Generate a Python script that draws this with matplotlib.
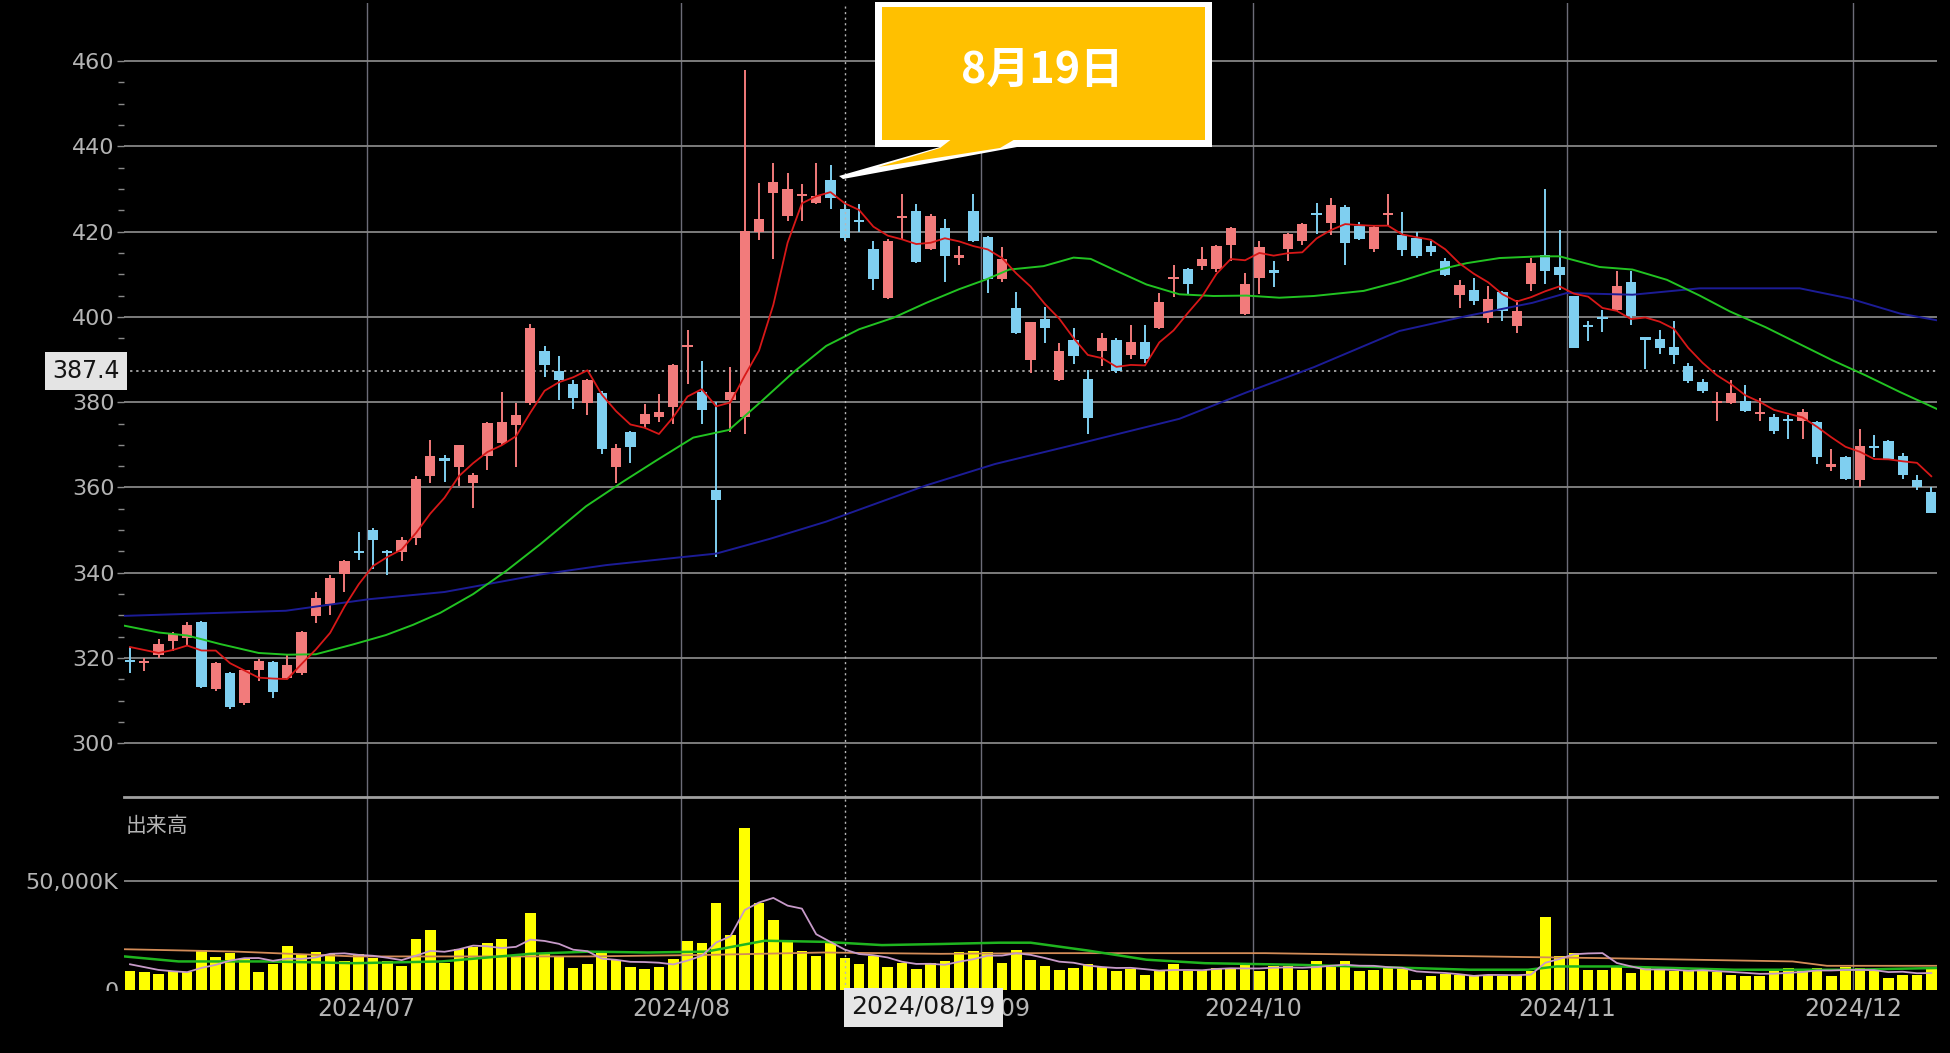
import numpy as np
import pandas as pd
import matplotlib
matplotlib.use("Agg")
import matplotlib.pyplot as plt
import matplotlib.transforms as mtransforms
from matplotlib.patches import Polygon, Rectangle
from matplotlib.ticker import FixedLocator

# ---------------- data ----------------
open_ = [319.3, 318.8, 320.8, 323.9, 324.8, 328.4, 312.8, 316.6, 309.4, 317.2,
         319.2, 315.4, 316.6, 329.9, 332.6, 339.7, 345.1, 350.1, 345.0, 344.9,
         348.2, 362.8, 366.6, 364.7, 361.0, 367.4, 370.4, 374.6, 379.9, 392.0,
         387.3, 384.2, 379.8, 382.2, 364.7, 373.0, 374.8, 376.6, 378.8, 393.0,
         382.4, 359.4, 380.6, 376.6, 420.0, 429.0, 423.7, 428.3, 426.7, 432.1,
         425.4, 422.6, 416.0, 404.5, 423.1, 424.9, 416.0, 420.8, 413.9, 424.9,
         418.7, 409.0, 402.0, 390.0, 399.5, 385.3, 394.6, 385.5, 391.9, 394.6,
         391.1, 394.2, 397.4, 408.8, 411.2, 411.9, 411.2, 416.9, 400.6, 409.1,
         410.7, 416.0, 417.9, 424.2, 422.0, 425.7, 421.4, 416.0, 423.8, 419.2,
         418.4, 416.7, 413.0, 405.2, 406.4, 399.8, 405.8, 397.8, 407.8, 414.6,
         411.8, 404.8, 398.0, 399.7, 401.7, 408.1, 395.0, 394.9, 393.0, 388.6,
         384.8, 379.8, 379.8, 380.2, 377.2, 376.5, 375.8, 375.5, 375.3, 364.9,
         367.1, 361.8, 369.6, 371.0, 367.5, 361.8, 359.0]
high = [322.7, 320.0, 324.4, 326.2, 328.4, 328.6, 319.2, 316.8, 317.3, 319.9,
        319.4, 320.8, 326.4, 335.5, 339.5, 343.1, 349.6, 350.4, 345.4, 348.5,
        362.7, 371.2, 367.7, 370.0, 363.5, 375.3, 382.4, 379.7, 398.3, 393.1,
        390.9, 385.1, 385.5, 382.6, 370.3, 373.2, 379.6, 382.0, 389.0, 397.0,
        389.7, 380.0, 388.2, 458.0, 431.5, 436.1, 433.8, 431.1, 436.1, 435.5,
        426.4, 426.4, 417.9, 418.2, 428.8, 426.4, 424.1, 422.9, 416.7, 428.8,
        418.9, 416.4, 405.9, 398.9, 402.4, 393.9, 397.3, 387.5, 396.2, 395.0,
        398.1, 398.1, 405.5, 412.2, 411.5, 416.4, 416.8, 421.0, 410.2, 417.7,
        413.2, 419.7, 422.0, 426.7, 427.8, 426.2, 422.2, 421.2, 428.8, 424.6,
        419.9, 417.7, 413.8, 408.7, 409.1, 407.2, 406.0, 404.0, 413.8, 429.9,
        420.4, 405.0, 399.0, 401.7, 410.7, 410.7, 395.1, 396.9, 399.0, 389.2,
        385.5, 382.5, 385.1, 384.1, 380.9, 377.3, 376.9, 378.4, 375.5, 369.0,
        367.3, 373.6, 372.2, 371.2, 368.1, 362.9, 360.0]
low = [316.4, 317.0, 320.0, 321.7, 323.0, 313.0, 312.3, 308.0, 309.0, 314.7,
       310.6, 315.2, 316.0, 328.2, 330.2, 335.5, 343.1, 340.9, 339.5, 342.7,
       346.6, 361.0, 361.4, 360.3, 355.2, 364.1, 369.9, 364.7, 379.3, 386.0,
       380.6, 378.4, 377.1, 367.9, 361.0, 365.7, 373.9, 375.3, 374.8, 384.2,
       374.8, 343.6, 373.0, 372.6, 418.0, 413.6, 422.5, 422.5, 426.4, 425.3,
       417.9, 419.8, 406.3, 404.3, 418.3, 412.6, 415.8, 408.2, 412.2, 417.5,
       405.5, 408.2, 396.0, 386.9, 393.9, 385.0, 388.9, 372.6, 388.4, 386.9,
       390.2, 389.2, 397.2, 404.7, 405.3, 410.9, 410.6, 413.2, 400.4, 405.3,
       407.0, 413.2, 416.9, 419.5, 419.3, 412.2, 418.0, 415.1, 421.4, 414.3,
       413.8, 414.3, 409.5, 402.1, 402.9, 398.6, 399.0, 396.3, 406.0, 407.8,
       406.4, 392.6, 394.3, 396.4, 401.5, 398.2, 387.7, 391.2, 388.9, 384.6,
       382.1, 375.6, 379.6, 377.6, 375.7, 372.5, 371.4, 371.4, 365.5, 363.9,
       361.8, 360.0, 367.1, 366.5, 362.1, 359.4, 354.0]
close = [319.0, 319.0, 323.3, 325.7, 327.7, 313.2, 318.9, 308.5, 317.2, 319.3,
         312.1, 318.3, 326.2, 334.2, 338.8, 342.7, 344.7, 347.6, 344.7, 347.6,
         362.0, 367.4, 366.3, 369.9, 362.9, 375.1, 375.3, 376.9, 397.4, 388.7,
         385.1, 381.1, 385.1, 369.0, 369.2, 369.5, 377.2, 377.8, 388.8, 393.4,
         378.1, 357.0, 382.4, 420.2, 422.9, 431.6, 429.9, 428.6, 428.4, 427.8,
         418.4, 422.2, 409.0, 417.9, 423.4, 412.9, 423.7, 414.3, 414.2, 417.9,
         409.0, 413.6, 396.2, 398.8, 397.5, 391.9, 390.8, 376.4, 395.0, 387.3,
         394.2, 390.2, 403.4, 409.1, 407.8, 413.6, 416.6, 420.8, 407.6, 416.4,
         410.4, 419.5, 421.8, 423.9, 426.2, 417.4, 418.3, 421.0, 424.1, 415.8,
         414.2, 415.3, 409.9, 407.5, 403.7, 404.2, 401.3, 401.3, 412.6, 410.7,
         409.9, 392.8, 397.7, 399.4, 407.3, 400.2, 394.7, 392.8, 391.0, 385.0,
         382.7, 380.1, 382.2, 378.0, 377.4, 373.3, 375.6, 377.8, 367.1, 365.2,
         362.0, 369.8, 369.3, 366.7, 362.9, 360.2, 354.1]
# volume in thousands of shares
volume = [8600, 8100, 7500, 8600, 8100, 18400, 15100, 17200, 14200, 8400,
          12000, 20200, 16600, 17600, 16600, 13100, 16600, 14600, 13100, 11100,
          23200, 27700, 12600, 18700, 19600, 21700, 23600, 15400, 35200, 16600,
          15100, 10100, 12000, 18100, 13900, 10500, 9600, 10500, 14200, 22600,
          21700, 39800, 25000, 74400, 39800, 32200, 22100, 18100, 15700, 22100,
          14600, 12000, 15400, 10500, 12300, 9600, 12300, 13100, 17600, 18100,
          17600, 12600, 18400, 13900, 10800, 9300, 10100, 12000, 10500, 8600,
          9600, 7100, 8600, 12000, 8600, 9000, 10100, 10100, 11600, 8600,
          10800, 10800, 9300, 13100, 11600, 13100, 8600, 9000, 10100, 10100,
          4800, 6600, 7500, 7100, 6300, 7100, 6300, 7100, 8600, 33400,
          15700, 17200, 9000, 9300, 10800, 7800, 10100, 9000, 8600, 8600,
          9000, 8100, 7100, 6600, 6300, 9300, 10100, 9000, 10100, 6300,
          10500, 10100, 8600, 5600, 7100, 7100, 10500]

# first values of the 5-day lines (no earlier data on screen)
ma5_head = [322.6, 321.9, 321.2, 321.9]
vol_ma5_head = [11800, 10500, 9200, 8600]

# 25-day and 75-day price averages (bar index, price)
ma25_idx = [-0.4, 2, 4, 6.3, 9, 11, 13, 15.6, 17.9, 19.8, 21.7, 24, 26.3, 28.7,
            31.9, 34.5, 36.8, 39.4, 41.9, 44.1, 46.4, 48.7, 51, 53.4, 55.7, 58,
            59.9, 61.5, 63.9, 66, 67.2, 68.8, 71.1, 73.4, 75.8, 78.1, 80.4, 82.8,
            86.3, 88.8, 91.1, 93.5, 95.8, 98.6, 100, 102.8, 105.1, 107.5, 109.8,
            111.9, 114.4, 119.1, 121.4, 123.8, 126.4]
ma25_val = [327.6, 326.0, 325.3, 323.3, 321.2, 320.8, 320.9, 323.2, 325.4, 327.8,
            330.6, 335.0, 340.4, 346.7, 355.6, 361.4, 366.3, 371.7, 373.5, 380.0,
            387.0, 393.2, 397.1, 399.8, 403.3, 406.5, 408.8, 411.1, 411.9, 413.9,
            413.6, 411.1, 407.6, 405.3, 404.9, 405.0, 404.5, 404.9, 406.1, 408.3,
            410.7, 412.6, 413.8, 414.2, 414.2, 411.7, 411.1, 408.7, 405.0, 401.3,
            397.6, 389.8, 386.3, 382.4, 378.4]
ma75_idx = [-0.4, 10.9, 16.7, 22, 28.7, 33.3, 38.4, 41, 44.8, 48.7, 55.7, 60.5,
            66.4, 73.4, 78.1, 82.8, 88.8, 93.5, 98.1, 100.5, 105.1, 109.8, 116.8,
            120.3, 123.8, 126.4]
ma75_val = [329.9, 331.1, 333.8, 335.5, 339.6, 341.8, 343.6, 344.5, 348.0, 352.0,
            360.5, 365.5, 370.3, 376.1, 382.3, 388.2, 396.7, 400.2, 403.3, 405.6,
            405.2, 406.7, 406.7, 404.3, 400.8, 399.2]

# volume averages (bar index, thousands)
vma25_idx = [-0.4, 3.4, 9.6, 15.7, 21.8, 28, 32.1, 36.2, 40.3, 44.4, 48.5, 52.6,
             56.7, 60.8, 63, 67, 71.1, 75.2, 81.4, 87.5, 93.7, 97.8, 99.8, 104,
             112.2, 120.4, 126.4]
vma25_val = [15400, 13100, 13100, 12300, 13100, 16600, 17600, 17200, 17600, 22600,
             22100, 20600, 21100, 21700, 21700, 18100, 13900, 12300, 11600, 10500,
             9300, 9300, 10800, 10800, 9300, 9300, 10100]
vma75_idx = [-0.4, 7.5, 15.7, 23.9, 32.1, 40.3, 48.5, 56.7, 63.5, 79.4, 91.7, 97.8,
             103.2, 116.3, 118.7, 126.4]
vma75_val = [18700, 17600, 15400, 15400, 15400, 16100, 17200, 16600, 16900, 16900,
             15700, 15100, 14600, 13100, 11100, 11100]

month_start_idx = [17, 39, 60, 79, 101, 121]
month_labels = ["2024/07", "2024/08", "2024/09", "2024/10", "2024/11", "2024/12"]
price_ticks = [300, 320, 340, 360, 380, 400, 420, 440, 460]
price_minor_ticks = [p + d for p in price_ticks[:-1] for d in (5, 10, 15)]
vol_ticks = [0, 50000]
vol_tick_labels = ["0", "50,000K"]
last_price = 387.4
cursor_idx = 50
cursor_label = "2024/08/19"
callout_text = "8月19日"
volume_title = "出来高"

# ---------------- style ----------------
W, H = 1950, 1053
BG = "black"
RED = "#f27b7b"
BLUE = "#7fcff0"
GRID_H = "#858585"
GRID_V = "#6c6c78"
LBL = "#b4b4b4"
CJK = ["Noto Sans CJK JP", "DejaVu Sans"]
plt.rcParams["font.family"] = ["DejaVu Sans"]

o = np.array(open_); hi = np.array(high); lo = np.array(low); c = np.array(close)
v = np.array(volume, dtype=float)
n = len(c)
x = np.arange(n)

ma5 = pd.Series(c).rolling(5).mean().to_numpy()
ma5[:4] = ma5_head
vma5 = pd.Series(v).rolling(5).mean().to_numpy()
vma5[:4] = vol_ma5_head

fig = plt.figure(figsize=(W / 100, H / 100), dpi=100, facecolor=BG)
L, R = 124 / W, 1937 / W
ax = fig.add_axes([L, 1 - 797 / H, R - L, (797 - 3) / H], facecolor=BG)
axv = fig.add_axes([L, 1 - 990 / H, R - L, (990 - 797) / H], facecolor=BG)

xlim = (-0.42, 126.4)
for a in (ax, axv):
    a.set_xlim(*xlim)
    for s in a.spines.values():
        s.set_visible(False)
    for m in month_start_idx:
        a.axvline(m - 0.45, color=GRID_V, lw=1.0, zorder=1)
    a.axvline(cursor_idx, color="#b8b8b8", lw=1.0, ls=(0, (1.5, 2.5)), zorder=6)

# ---- price panel ----
ax.set_ylim(287.43, 473.6)
for p in price_ticks:
    ax.axhline(p, color=GRID_H, lw=1.3, zorder=1)
ax.axhline(last_price, color="#c8c8c8", lw=1.1, ls=(0, (1.5, 2.5)), zorder=2)

up = c >= o
cols = np.where(up, RED, BLUE)
ax.vlines(x, lo, hi, colors=cols, lw=1.4, zorder=3)
body_bot = np.minimum(o, c)
body_h = np.maximum(np.abs(c - o), 0.5)
ax.bar(x, body_h, bottom=body_bot, width=0.72, color=cols, linewidth=0, zorder=4)

ax.plot(ma75_idx, ma75_val, color="#1c1c96", lw=1.4, zorder=5)
ax.plot(ma25_idx, ma25_val, color="#22c322", lw=1.4, zorder=5)
ax.plot(x, ma5, color="#d81818", lw=1.3, zorder=5)

ax.yaxis.set_major_locator(FixedLocator(price_ticks))
ax.yaxis.set_minor_locator(FixedLocator(price_minor_ticks))
ax.tick_params(axis="y", which="major", colors="#8a8a8a", labelcolor=LBL,
               labelsize=16, length=5, width=1.0, pad=2)
ax.tick_params(axis="y", which="minor", colors="#8a8a8a", length=4, width=1.0)
ax.tick_params(axis="x", which="both", bottom=False, labelbottom=False)

# last-price label box
tr = mtransforms.blended_transform_factory(fig.transFigure, ax.transData)
ax.text(120 / W, last_price, f"{last_price:.1f}", transform=tr, ha="right",
        va="center", fontsize=17, color="#151515", zorder=10,
        bbox=dict(boxstyle="square,pad=0.3", fc="#e4e4e4", ec="none"))

# ---- volume panel ----
axv.set_ylim(0, 88530)
axv.spines["top"].set_visible(True)
axv.spines["top"].set_color("#a0a0a0")
axv.spines["top"].set_linewidth(2.0)
axv.axhline(vol_ticks[1], color=GRID_H, lw=1.3, zorder=1)
axv.bar(x, v, width=0.74, color="#ffff00", linewidth=0, zorder=2)
axv.plot(vma75_idx, vma75_val, color="#d38c58", lw=1.3, zorder=3)
axv.plot(vma25_idx, vma25_val, color="#1fb51f", lw=1.8, zorder=3)
axv.plot(x, vma5, color="#c79ac9", lw=1.3, zorder=3)

axv.yaxis.set_major_locator(FixedLocator(vol_ticks))
axv.set_yticklabels(vol_tick_labels)
axv.tick_params(axis="y", colors="#8a8a8a", labelcolor=LBL, labelsize=16,
                length=0, pad=4)
axv.set_xticks([m - 0.45 for m in month_start_idx])
axv.set_xticklabels(month_labels)
axv.tick_params(axis="x", length=0, labelsize=17, labelcolor=LBL, pad=5)

fig.text(126 / W, 1 - 826 / H, volume_title, fontsize=15, color=LBL,
         family=CJK, va="center", ha="left")

# mask the lower half of the "0" label like the source
fig.add_artist(Rectangle((0, 0), 121 / W, 1 - 991 / H, transform=fig.transFigure,
                         facecolor=BG, edgecolor="none", zorder=20))

# cursor date box (covers most of the 2024/09 label, as in the source)
fig.text(851 / W, 1 - 1007 / H, cursor_label, fontsize=18, color="#151515",
         ha="left", va="center", zorder=30,
         bbox=dict(boxstyle="square,pad=0.3", fc="#e6e6e6", ec="none"))

# ---- callout ----
def P(pts):
    return [(px / W, 1 - py / H) for px, py in pts]

white_box = [(875, 2), (1212, 2), (1212, 147), (875, 147)]
white_tail = [(940, 147), (1017, 147), (843, 179), (839, 176)]
yellow_box = [(882, 7), (1205, 7), (1205, 140), (882, 140)]
yellow_tail = [(953, 138), (1017, 138), (1000, 148), (878, 167), (940, 148)]
for pts, col in ((white_box, "white"), (white_tail, "white"),
                 (yellow_box, "#ffc000"), (yellow_tail, "#ffc000")):
    fig.add_artist(Polygon(P(pts), closed=True, transform=fig.transFigure,
                           facecolor=col, edgecolor="none", zorder=40))
fig.text(1042 / W, 1 - 70 / H, callout_text, fontsize=31, fontweight="bold",
         color="white", family=CJK, ha="center", va="center", zorder=41)

fig.savefig("out.png", dpi=100, facecolor=BG)
